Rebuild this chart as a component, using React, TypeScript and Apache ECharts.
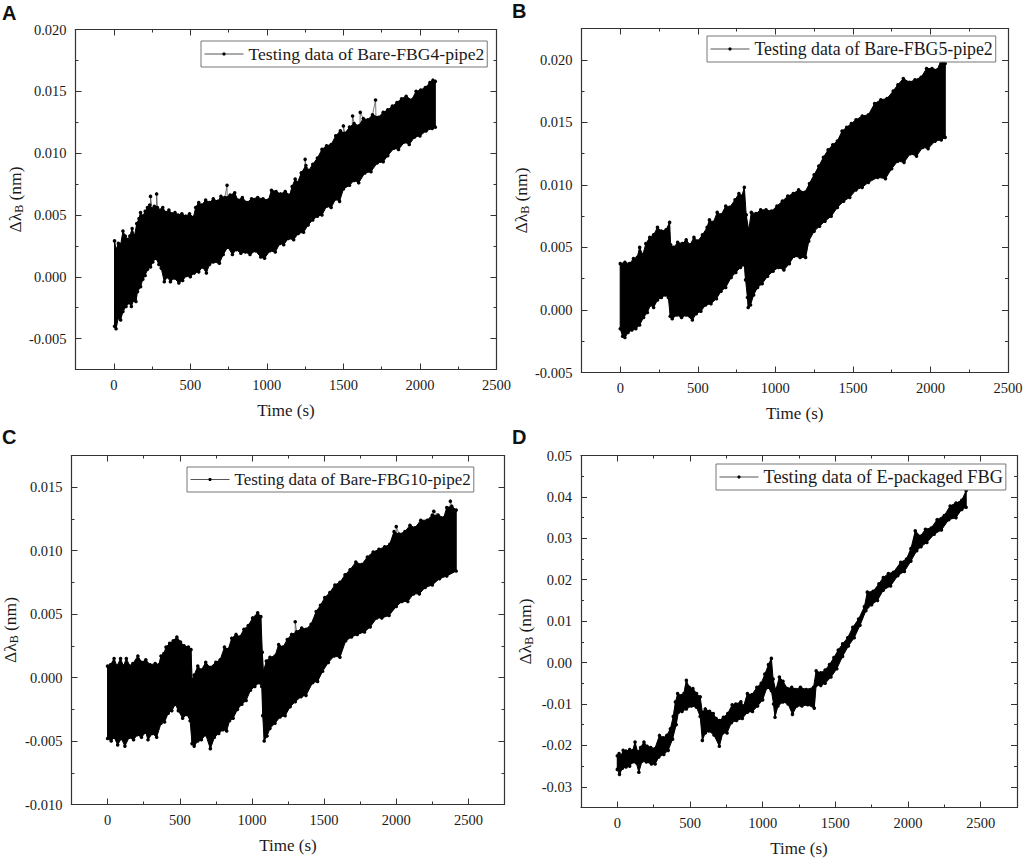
import React, { useEffect, useRef } from "react";
import * as echarts from "echarts";

// ---------- data ----------
const namesOfSeries = [
  "Testing data of Bare-FBG4-pipe2",
  "Testing data of Bare-FBG5-pipe2",
  "Testing data of Bare-FBG10-pipe2",
  "Testing data of E-packaged FBG",
];

const aUpperT = [5,15,30,45,60,75,90,105,120,135,150,165,175,190,205,220,235,250,265,285,305,320,340,360,380,400,420,445,470,495,520,535,555,575,600,625,650,680,700,725,760,790,810,840,870,900,940,975,1010,1030,1060,1090,1120,1150,1165,1185,1200,1225,1255,1275,1300,1330,1360,1390,1420,1450,1480,1510,1540,1570,1600,1630,1660,1690,1730,1760,1790,1820,1850,1880,1910,1945,1975,2005,2035,2065,2085,2100];
const aUpper = [0.0029,0.0022,0.0027,0.0026,0.0037,0.0033,0.003,0.0033,0.0039,0.0033,0.0043,0.0047,0.0052,0.0049,0.0053,0.0056,0.0058,0.0055,0.0057,0.0056,0.0054,0.0056,0.0052,0.0054,0.0051,0.0052,0.005,0.0051,0.0049,0.0051,0.0048,0.0056,0.006,0.0058,0.0062,0.006,0.0063,0.0061,0.0065,0.0064,0.0066,0.0068,0.0062,0.0064,0.006,0.0063,0.0064,0.0063,0.0062,0.007,0.0069,0.0067,0.0069,0.0066,0.0073,0.0079,0.0076,0.0084,0.009,0.0086,0.0091,0.0096,0.0103,0.0106,0.0107,0.0114,0.0118,0.0116,0.0121,0.0124,0.0122,0.0128,0.0127,0.0131,0.0129,0.0133,0.0135,0.0138,0.0141,0.0144,0.0146,0.0143,0.015,0.0151,0.0153,0.0157,0.0159,0.0158];
const aLowerT = [5,15,30,45,60,80,100,115,130,145,155,175,190,205,220,240,255,275,295,310,330,350,370,395,425,450,475,500,525,555,580,605,625,650,690,715,745,775,800,830,860,890,925,960,985,1020,1055,1085,1110,1140,1175,1205,1240,1270,1300,1330,1360,1390,1420,1450,1475,1500,1540,1570,1600,1640,1680,1720,1760,1790,1830,1860,1900,1930,1965,2000,2040,2080,2100];
const aLower = [-0.004,-0.0042,-0.0033,-0.0035,-0.0028,-0.0024,-0.0021,-0.0024,-0.0019,-0.002,-0.0012,-0.0008,-0.0002,0.0001,0.0006,0.0008,0.0012,0.0015,0.001,0.0007,-0.0004,0,-0.0004,-0.0001,-0.0005,-0.0003,0.0001,0,0.0003,0.0004,0.0008,0.0003,0.001,0.0012,0.0011,0.0018,0.0024,0.0018,0.0022,0.0019,0.002,0.0018,0.0021,0.0016,0.0015,0.0021,0.002,0.0027,0.0026,0.0031,0.003,0.0035,0.0036,0.0042,0.0046,0.0049,0.005,0.0057,0.0056,0.0063,0.0061,0.0071,0.0074,0.0078,0.0076,0.0084,0.0085,0.0092,0.0093,0.0098,0.0104,0.0103,0.0109,0.0107,0.0113,0.0114,0.0118,0.012,0.0121];
const aSpikeT = [240,280,740,1250,1500,1560,1610,1710];
const aSpike = [0.0065,0.0067,0.0074,0.0095,0.0122,0.013,0.0133,0.0143];

const bUpperT = [0,30,60,85,110,125,145,165,190,215,240,265,295,318,325,345,370,400,425,450,475,500,530,560,575,600,625,650,680,705,740,765,785,800,812,828,845,875,905,940,975,1010,1045,1080,1115,1150,1190,1220,1250,1280,1310,1340,1370,1400,1430,1460,1490,1520,1560,1600,1640,1680,1720,1760,1790,1825,1865,1900,1940,1975,2010,2045,2070,2095];
const bUpper = [0.0037,0.0038,0.0037,0.0041,0.0042,0.005,0.0044,0.0053,0.0058,0.006,0.0066,0.0063,0.0064,0.007,0.0052,0.005,0.0054,0.0053,0.0056,0.0052,0.0058,0.0055,0.006,0.0066,0.0072,0.007,0.0078,0.0076,0.0083,0.0082,0.0088,0.0093,0.0091,0.0098,0.0076,0.0064,0.0078,0.0077,0.008,0.008,0.0079,0.0083,0.0087,0.0091,0.0093,0.0096,0.0094,0.0101,0.0108,0.0115,0.0122,0.0128,0.0132,0.0135,0.0143,0.0146,0.0149,0.0152,0.0155,0.0156,0.0165,0.0168,0.0169,0.0175,0.018,0.0185,0.0182,0.0184,0.0186,0.0193,0.0193,0.0192,0.02,0.0197];
const bLowerT = [0,15,30,50,75,100,125,150,175,195,215,240,265,290,310,322,335,365,395,425,465,490,520,550,585,620,650,680,715,745,775,800,808,820,825,840,860,885,915,950,985,1020,1055,1090,1120,1160,1195,1215,1250,1285,1320,1360,1400,1440,1480,1520,1560,1600,1660,1710,1750,1790,1830,1870,1910,1950,1985,2030,2070,2095];
const bLower = [-0.0015,-0.0021,-0.0022,-0.0018,-0.0016,-0.0015,-0.0012,-0.0006,-0.0002,0.0004,0.0002,0.0008,0.001,0.0012,0.001,-0.0005,-0.0007,-0.0004,-0.0006,-0.0004,-0.0008,-0.0003,-0.0001,0.0004,0.0005,0.0009,0.0015,0.0018,0.0026,0.003,0.0034,0.0036,0.0024,0.001,0.0002,0.0004,0.0012,0.0018,0.0021,0.0027,0.0031,0.0034,0.0032,0.0037,0.0043,0.0042,0.0042,0.0055,0.0063,0.0067,0.0071,0.0075,0.0082,0.0087,0.009,0.0096,0.0098,0.0102,0.0106,0.0105,0.0113,0.0119,0.0118,0.0125,0.0123,0.013,0.0129,0.0135,0.0136,0.0138];
const bSpikeT: number[] = [];
const bSpike: number[] = [];

const cUpperT = [0,20,45,65,90,110,130,155,175,210,235,265,295,330,355,370,390,405,430,455,480,505,530,560,578,585,600,625,650,680,710,750,780,810,835,860,890,915,945,975,1005,1040,1062,1072,1080,1100,1125,1160,1185,1215,1245,1275,1310,1345,1375,1410,1445,1475,1505,1540,1575,1610,1645,1680,1720,1760,1800,1840,1880,1920,1955,1985,2020,2060,2095,2130,2170,2215,2250,2290,2330,2350,2385,2415];
const cUpper = [0.0009,0.001,0.0015,0.0009,0.0015,0.0009,0.0015,0.0009,0.0011,0.0017,0.0012,0.0014,0.001,0.0011,0.001,0.0017,0.0019,0.0024,0.0027,0.0029,0.0032,0.0028,0.0025,0.0024,0.0022,-0.0002,0.0002,0.0009,0.0006,0.0012,0.0008,0.0012,0.0014,0.0024,0.0022,0.0031,0.0034,0.0032,0.0038,0.0041,0.0047,0.0051,0.0048,0.002,0.0005,0.0013,0.0016,0.0017,0.0026,0.0024,0.003,0.0034,0.0036,0.0039,0.0038,0.0042,0.0052,0.0057,0.0063,0.0067,0.0073,0.0075,0.0081,0.0085,0.0091,0.0089,0.0095,0.0099,0.0101,0.0103,0.0105,0.0115,0.0113,0.0115,0.012,0.0118,0.0124,0.0124,0.0128,0.0128,0.0126,0.0134,0.0135,0.0132];
const cLowerT = [0,25,45,70,95,120,150,180,205,235,265,280,310,340,370,395,420,445,470,490,520,550,572,585,600,625,650,680,712,740,770,800,825,845,870,900,930,960,990,1020,1050,1068,1075,1085,1105,1125,1160,1195,1230,1265,1300,1340,1375,1420,1455,1490,1530,1570,1610,1650,1690,1730,1780,1820,1865,1900,1950,2000,2040,2080,2120,2160,2200,2250,2300,2350,2415];
const cLower = [-0.0048,-0.005,-0.0047,-0.0053,-0.0048,-0.0054,-0.0047,-0.0049,-0.0045,-0.0047,-0.0043,-0.0049,-0.0044,-0.0047,-0.0036,-0.0035,-0.0028,-0.0026,-0.0021,-0.0026,-0.0032,-0.0029,-0.0034,-0.0052,-0.0054,-0.005,-0.0049,-0.0045,-0.0056,-0.0047,-0.0044,-0.0041,-0.0042,-0.0034,-0.0032,-0.0025,-0.0021,-0.0018,-0.001,-0.0007,-0.0004,-0.0007,-0.003,-0.005,-0.0046,-0.004,-0.0036,-0.0031,-0.003,-0.0023,-0.0019,-0.0015,-0.0014,-0.0004,-0.0003,0.0005,0.0012,0.0017,0.0016,0.0029,0.0032,0.0034,0.0036,0.004,0.0047,0.0047,0.0049,0.0056,0.006,0.006,0.0066,0.0066,0.0071,0.0073,0.0078,0.008,0.0084];
const cSpikeT = [1300,2000,2260,2375];
const cSpike = [0.0044,0.0119,0.0131,0.0139];

const dUpperT = [0,12,25,40,60,85,105,122,140,160,183,205,230,258,290,315,340,365,385,400,415,440,458,475,495,520,545,570,585,605,635,660,680,702,730,760,790,815,850,870,895,925,960,990,1015,1040,1060,1072,1090,1115,1140,1170,1200,1225,1260,1300,1350,1368,1400,1430,1460,1490,1520,1550,1585,1620,1660,1700,1720,1760,1800,1830,1865,1900,1950,1990,2020,2050,2085,2120,2160,2200,2250,2290,2330,2370,2400];
const dUpper = [-0.0225,-0.022,-0.0226,-0.0212,-0.0214,-0.021,-0.0213,-0.0192,-0.0216,-0.0205,-0.0192,-0.0202,-0.0205,-0.0208,-0.0176,-0.0182,-0.0176,-0.016,-0.013,-0.0095,-0.0075,-0.008,-0.0075,-0.0043,-0.006,-0.0063,-0.0075,-0.0083,-0.012,-0.0112,-0.0118,-0.0123,-0.0135,-0.014,-0.0132,-0.0123,-0.0102,-0.01,-0.0095,-0.0105,-0.0075,-0.0078,-0.006,-0.005,-0.0028,-0.0005,0.001,-0.004,-0.0067,-0.0035,-0.0045,-0.0063,-0.006,-0.0065,-0.006,-0.0065,-0.006,-0.002,-0.0025,-0.0018,-0.0005,0.0012,0.003,0.0045,0.006,0.0085,0.0105,0.0135,0.017,0.0172,0.019,0.0205,0.0215,0.0218,0.0242,0.025,0.0275,0.0318,0.0305,0.0322,0.0325,0.0345,0.0355,0.0378,0.0385,0.0392,0.0415];
const dLowerT = [0,15,35,60,85,105,130,148,170,200,235,260,285,320,350,380,405,420,445,475,510,545,570,585,605,630,665,702,725,755,785,820,860,895,930,965,1000,1030,1060,1075,1085,1105,1140,1175,1205,1235,1270,1310,1355,1368,1400,1430,1470,1510,1550,1590,1630,1670,1710,1750,1790,1830,1880,1930,1975,2020,2060,2090,2130,2180,2230,2280,2330,2370,2400];
const dLower = [-0.0258,-0.027,-0.0255,-0.0252,-0.025,-0.024,-0.0242,-0.0265,-0.0238,-0.024,-0.0245,-0.0245,-0.0228,-0.0222,-0.0212,-0.0185,-0.015,-0.012,-0.0118,-0.0112,-0.0105,-0.0108,-0.013,-0.0188,-0.017,-0.0165,-0.0175,-0.0202,-0.017,-0.017,-0.0145,-0.014,-0.0135,-0.012,-0.0118,-0.0105,-0.009,-0.006,-0.0068,-0.01,-0.0132,-0.0105,-0.0095,-0.01,-0.0125,-0.0105,-0.0105,-0.0102,-0.011,-0.0055,-0.0055,-0.005,-0.0035,-0.0015,0.0015,0.004,0.006,0.009,0.0125,0.014,0.015,0.0175,0.0185,0.021,0.022,0.0245,0.027,0.028,0.029,0.031,0.032,0.0345,0.035,0.037,0.0375];
const dSpikeT: number[] = [];
const dSpike: number[] = [];

const xMajor = [0, 500, 1000, 1500, 2000, 2500];
const xMinor = [250, 750, 1250, 1750, 2250];
const xLimitsA = [-250, 2500];
const xLimitsB = [-250, 2500];
const xLimitsC = [-250, 2750];
const xLimitsD = [-250, 2750];

const yMajorA = [-0.005, 0, 0.005, 0.01, 0.015, 0.02];
const yMinorA = [-0.0025, 0.0025, 0.0075, 0.0125, 0.0175];
const yMajorB = [-0.005, 0, 0.005, 0.01, 0.015, 0.02];
const yMinorB = [-0.0025, 0.0025, 0.0075, 0.0125, 0.0175];
const yMajorC = [-0.01, -0.005, 0, 0.005, 0.01, 0.015];
const yMinorC = [-0.0075, -0.0025, 0.0025, 0.0075, 0.0125];
const yMajorD = [-0.03, -0.02, -0.01, 0, 0.01, 0.02, 0.03, 0.04, 0.05];
const yMinorD = [-0.025, -0.015, -0.005, 0.005, 0.015, 0.025, 0.035, 0.045];

const panelLetters = ["A", "B", "C", "D"];

// ---------- layout ----------
const panels = [
  { name: namesOfSeries[0], upT: aUpperT, up: aUpper, loT: aLowerT, lo: aLower, spT: aSpikeT, sp: aSpike, xLim: xLimitsA, yLim: [-0.0075, 0.02], yMaj: yMajorA, yMin: yMinorA, dec: 3,
    grid: { left: 75.5, top: 29.5, width: 421, height: 340 }, yGap: 51, xGap: 32, legend: { left: 201, top: 41 }, legendFont: 17.6, letter: { x: 2, y: 3 } },
  { name: namesOfSeries[1], upT: bUpperT, up: bUpper, loT: bLowerT, lo: bLower, spT: bSpikeT, sp: bSpike, xLim: xLimitsB, yLim: [-0.005, 0.0225], yMaj: yMajorB, yMin: yMinorB, dec: 3,
    grid: { left: 581.5, top: 28.5, width: 426.5, height: 344 }, yGap: 51, xGap: 32, legend: { left: 707, top: 36 }, legendFont: 17.8, letter: { x: 512, y: 1 } },
  { name: namesOfSeries[2], upT: cUpperT, up: cUpper, loT: cLowerT, lo: cLower, spT: cSpikeT, sp: cSpike, xLim: xLimitsC, yLim: [-0.01, 0.0175], yMaj: yMajorC, yMin: yMinorC, dec: 3,
    grid: { left: 71.5, top: 455.5, width: 433, height: 349 }, yGap: 52, xGap: 32, legend: { left: 187, top: 467 }, legendFont: 17, letter: { x: 2, y: 427 } },
  { name: namesOfSeries[3], upT: dUpperT, up: dUpper, loT: dLowerT, lo: dLower, spT: dSpikeT, sp: dSpike, xLim: xLimitsD, yLim: [-0.035, 0.05], yMaj: yMajorD, yMin: yMinorD, dec: 2,
    grid: { left: 581, top: 455.5, width: 436, height: 352 }, yGap: 46.5, xGap: 32, legend: { left: 716, top: 464 }, legendFont: 18.3, letter: { x: 512, y: 427 } },
];

const SERIF = '"Liberation Serif", serif';
const INK = "#1a1a1a";
const LINE = "#333333";

function pairs(t: number[], v: number[]) {
  return t.map((x, i) => [x, v[i]]);
}

function buildOption() {
  const xAxis: any[] = [];
  const yAxis: any[] = [];
  const series: any[] = [];

  panels.forEach((p, i) => {
    const sideX = (position: string, values: number[], len: number, main: boolean, line: boolean) => ({
      gridIndex: i, type: "value", position, min: p.xLim[0], max: p.xLim[1],
      splitLine: { show: false },
      axisLine: { show: line, onZero: false, lineStyle: { color: LINE, width: 1.2 } },
      axisTick: { show: true, inside: true, length: len, customValues: values, lineStyle: { color: LINE, width: 1 } },
      axisLabel: main
        ? { show: true, customValues: values, margin: 8, color: INK, fontFamily: SERIF, fontSize: 14.5, formatter: (v: number) => String(v) }
        : { show: false },
      ...(main
        ? { name: "Time (s)", nameLocation: "middle", nameGap: p.xGap, nameMoveOverlap: false, nameTextStyle: { color: INK, fontFamily: SERIF, fontSize: 17 } }
        : {}),
    });
    const sideY = (position: string, values: number[], len: number, main: boolean, line: boolean) => ({
      gridIndex: i, type: "value", position, min: p.yLim[0], max: p.yLim[1],
      splitLine: { show: false },
      axisLine: { show: line, onZero: false, lineStyle: { color: LINE, width: 1.2 } },
      axisTick: { show: true, inside: true, length: len, customValues: values, lineStyle: { color: LINE, width: 1 } },
      axisLabel: main
        ? { show: true, customValues: values, margin: 9, color: INK, fontFamily: SERIF, fontSize: 14.5, formatter: (v: number) => v.toFixed(p.dec) }
        : { show: false },
      ...(main
        ? {
            name: "{a|Δλ}{b|B}{a| (nm)}", nameLocation: "middle", nameRotate: 90, nameGap: p.yGap, nameMoveOverlap: false,
            nameTextStyle: {
              color: INK, fontFamily: SERIF, fontSize: 17.5,
              rich: {
                a: { fontFamily: SERIF, fontSize: 17.5, color: INK },
                b: { fontFamily: SERIF, fontSize: 12, color: INK, padding: [7, 0, 0, 0] },
              },
            },
          }
        : {}),
    });

    const xBase = xAxis.length;
    const yBase = yAxis.length;
    xAxis.push(
      sideX("bottom", xMajor, 6, true, true),
      sideX("bottom", xMinor, 3, false, false),
      sideX("top", xMajor, 6, false, true),
      sideX("top", xMinor, 3, false, false)
    );
    yAxis.push(
      sideY("left", p.yMaj, 6, true, true),
      sideY("left", p.yMin, 3, false, false),
      sideY("right", p.yMaj, 6, false, true),
      sideY("right", p.yMin, 3, false, false)
    );

    const upperPts = pairs(p.upT, p.up);
    const lowerPts = pairs(p.loT, p.lo);
    series.push({
      type: "custom", name: "band " + panelLetters[i], coordinateSystem: "cartesian2d",
      xAxisIndex: xBase, yAxisIndex: yBase, silent: true, clip: false, z: 3,
      data: [0],
      renderItem: (_: any, api: any) => ({
        type: "polygon",
        shape: { points: [...upperPts, ...[...lowerPts].reverse()].map((d) => api.coord(d)) },
        style: { fill: "#000000", stroke: "#000000", lineWidth: 1 },
      }),
    });

    const traced = [...upperPts, ...lowerPts, ...pairs(p.spT, p.sp)].sort((a, b) => a[0] - b[0]);
    series.push({
      type: "line", name: p.name, xAxisIndex: xBase, yAxisIndex: yBase, z: 2,
      data: traced, showSymbol: true, showAllSymbol: true, symbol: "circle", symbolSize: 3.6,
      itemStyle: { color: "#000000" }, lineStyle: { color: "#444444", width: 0.7 },
      silent: true, clip: false,
    });
  });

  return {
    animation: false,
    backgroundColor: "#ffffff",
    grid: panels.map((p) => ({ ...p.grid, containLabel: false, outerBoundsMode: "none" })),
    xAxis,
    yAxis,
    series,
    legend: panels.map((p) => ({
      data: [p.name], left: p.legend.left, top: p.legend.top, orient: "horizontal",
      padding: [4, 3], itemWidth: 39, itemHeight: 4, itemGap: 0,
      borderColor: "#777777", borderWidth: 1, backgroundColor: "#ffffff", selectedMode: false, z: 10,
      textStyle: { fontFamily: SERIF, fontSize: p.legendFont, color: INK },
      lineStyle: { color: "#555555", width: 1 },
      itemStyle: { color: "#000000" },
    })),
    graphic: panels.map((p, i) => ({
      type: "text", x: p.letter.x, y: p.letter.y,
      style: { text: panelLetters[i], font: 'bold 20px "Liberation Sans", Arial, sans-serif', fill: "#111111" },
    })),
  };
}

export default function App() {
  const ref = useRef<HTMLDivElement>(null);
  useEffect(() => {
    const chart = echarts.init(ref.current!, undefined, { renderer: "svg" });
    chart.setOption(buildOption() as any);
    return () => chart.dispose();
  }, []);
  return <div ref={ref} style={{ position: "absolute", left: 0, top: 0, width: 1024, height: 860 }} />;
}
